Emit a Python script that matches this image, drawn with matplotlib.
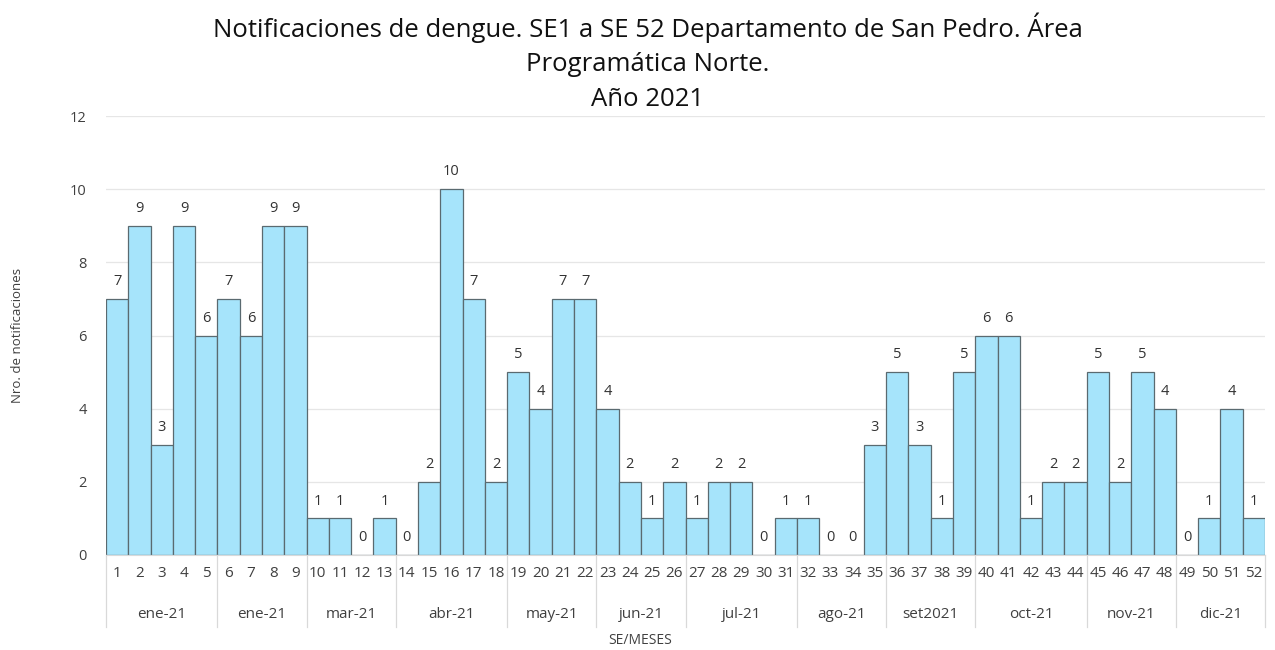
import matplotlib
matplotlib.use("Agg")
import matplotlib.pyplot as plt
import matplotlib.transforms as mtransforms

weeks = [str(i) for i in range(1, 53)]
values = [7, 9, 3, 9, 6, 7, 6, 9, 9, 1, 1, 0, 1, 0, 2, 10, 7, 2, 5, 4, 7, 7, 4, 2, 1, 2,
          1, 2, 2, 0, 1, 1, 0, 0, 3, 5, 3, 1, 5, 6, 6, 1, 2, 2, 5, 2, 5, 4, 0, 1, 4, 1]
months = ["ene-21", "ene-21", "mar-21", "abr-21", "may-21", "jun-21",
          "jul-21", "ago-21", "set2021", "oct-21", "nov-21", "dic-21"]
month_weeks = [5, 4, 4, 5, 4, 4, 5, 4, 4, 5, 4, 4]

plt.rcParams['font.family'] = ['Open Sans', 'DejaVu Sans']

fig = plt.figure(figsize=(12.75, 6.5), dpi=100)
ax = fig.add_axes([106/1275, 1-555/650, (1265-106)/1275, (555-116)/650])

x = list(range(len(values)))
bars = ax.bar(x, values, width=1.0, color="#A6E4FB", edgecolor="#5a6a70", linewidth=0.9, zorder=2)
for xi, v in zip(x, values):
    ax.text(xi, v + 0.27, str(v), ha="center", va="bottom", fontsize=10.5, color="#333333")

ax.set_xlim(-0.5, len(values) - 0.5)
ax.set_ylim(0, 12)
ax.set_yticks(range(0, 13, 2))
ax.tick_params(axis="y", length=0, labelsize=10.5, labelcolor="#404040", pad=14)
ax.yaxis.grid(True, color="#e6e6e6", linewidth=0.9, zorder=0)
ax.set_axisbelow(True)
for s in ["top", "right", "left"]:
    ax.spines[s].set_visible(False)
ax.spines["bottom"].set_color("#d9d9d9")

ax.set_xticks(x)
ax.set_xticklabels(weeks, fontsize=11, color="#404040")
ax.tick_params(axis="x", length=0, pad=8)

trans = mtransforms.blended_transform_factory(ax.transData, ax.transAxes)
ybot = -(627 - 555) / (555 - 116)
start = 0
bounds = [-0.5]
for name, n in zip(months, month_weeks):
    center = start + (n - 1) / 2
    ax.text(center, -(614 - 555) / (555 - 116), name, transform=trans, ha="center", va="center",
            fontsize=11, color="#404040")
    start += n
    bounds.append(start - 0.5)
for b in bounds:
    ax.plot([b, b], [0, ybot], transform=trans, color="#d9d9d9", linewidth=0.9, clip_on=False)

fig.text(640/1275, 1-640/650, "SE/MESES", ha="center", va="center", fontsize=10, color="#404040")
fig.text(18/1275, 1-335/650, "Nro. de notificaciones", rotation=90, ha="center", va="center",
         fontsize=9.5, color="#404040")

fig.text(648/1275, 1-62/650, "Notificaciones de dengue. SE1 a SE 52 Departamento de San Pedro. Área\nProgramática Norte.\nAño 2021",
         ha="center", va="center", fontsize=18.5, color="#111111", linespacing=1.5)

fig.savefig("out.png", dpi=100, facecolor="white")
